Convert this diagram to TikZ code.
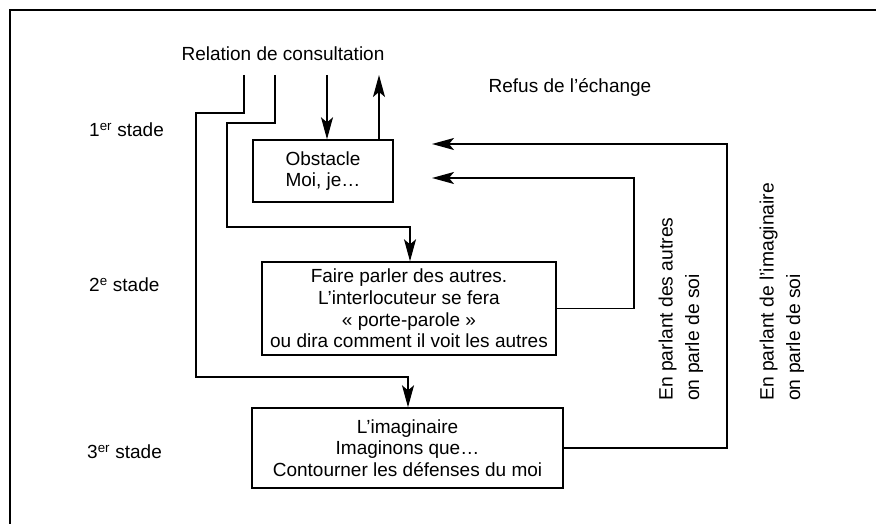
\documentclass[tikz,border=0pt]{standalone}
\usepackage{fontspec}
\setmainfont{Liberation Sans}
\usetikzlibrary{arrows.meta}
\begin{document}
\begin{tikzpicture}[x=1pt,y=-1pt,
  every node/.style={font=\fontsize{19}{21.7}\selectfont, inner sep=0pt},
  box/.style={draw, line width=1.4pt, align=center},
  con/.style={line width=1.4pt},
  arr/.style={con, -{Stealth[length=22pt,width=12pt,inset=5pt]}},
  rot/.style={rotate=90, anchor=west, align=left, font=\fontsize{19.3}{26.5}\selectfont}]
\useasboundingbox (0,0) rectangle (876,524);
% frame
\draw[line width=1.4pt] (10,524) -- (10,10) -- (876,10);
% labels
\node (rel) at (283,54) {Relation de consultation};
\node (refus) at (570,87) {Refus de l’échange};
\node[anchor=west] (s1) at (89,130) {1\textsuperscript{er} stade};
\node[anchor=west] (s2) at (89,285) {2\textsuperscript{e} stade};
\node[anchor=west] (s3) at (87,452) {3\textsuperscript{er} stade};
% boxes
\node[box, minimum width=140pt, minimum height=62pt] (obst) at (323,171) {Obstacle\\Moi, je\ldots};
\node[box, minimum width=294pt, minimum height=93pt] (faire) at (409,308.5)
  {Faire parler des autres.\\L’interlocuteur se fera\\« porte-parole »\\ou dira comment il voit les autres};
\node[box, minimum width=311pt, minimum height=80pt] (imag) at (407.5,448)
  {L’imaginaire\\Imaginons que\ldots\\Contourner les défenses du moi};
% rotated labels
\node[rot] (t1) at (681,401) {En parlant des autres\\on parle de soi};
\node[rot] (t2) at (782,401) {En parlant de l’imaginaire\\on parle de soi};
% free ends
\coordinate (a1) at (244,75);
\coordinate (a2) at (275,75);
\coordinate (a3) at (327,75);
\coordinate (a4) at (379,75);
\coordinate (f1) at (432,178);
\coordinate (f2) at (432,144);
% connectors
\draw[arr] (a1) -- (244,113) -- (196,113) -- (196,377) -- (408,377) -- (imag.north -| 408,0);
\draw[arr] (a2) -- (275,123) -- (227,123) -- (227,227) -- (410,227) -- (faire.north -| 410,0);
\draw[arr] (a3) -- (obst.north -| a3);
\draw[arr] (obst.north -| a4) -- (a4);
\draw[arr] (faire.east) -- (634,308.5) -- (634,178) -- (f1);
\draw[arr] (imag.east) -- (727,448) -- (727,144) -- (f2);
\end{tikzpicture}
\end{document}
